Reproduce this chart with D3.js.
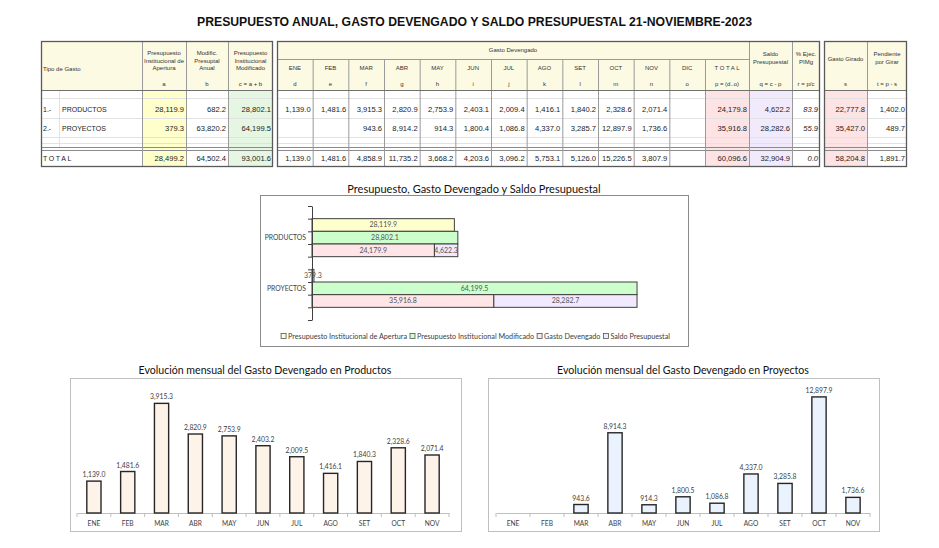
<!DOCTYPE html>
<html>
<head>
<meta charset="utf-8">
<script src="https://cdn.jsdelivr.net/npm/d3@7"></script>
<style>
  body { margin: 0; background: #fff; }
  svg { display: block; }
  text { font-family: "Liberation Sans", Arial, sans-serif; }
  .cal { font-family: Lato, "Open Sans", sans-serif; }
</style>
</head>
<body>
<svg id="chart" width="939" height="548"></svg>
<script>
// ---- data ----
const tituloPrincipal = "PRESUPUESTO ANUAL, GASTO DEVENGADO Y SALDO PRESUPUESTAL 21-NOVIEMBRE-2023";
const months = ["ENE", "FEB", "MAR", "ABR", "MAY", "JUN", "JUL", "AGO", "SET", "OCT", "NOV", "DIC"];
const monthLetters = ["d", "e", "f", "g", "h", "i", "j", "k", "l", "m", "n", "o"];
const tipos = ["PRODUCTOS", "PROYECTOS"];
const apertura = [28119.9, 379.3];
const modifAnual = [682.2, 63820.2];
const modificado = [28802.1, 64199.5];
const devProductos = [1139.0, 1481.6, 3915.3, 2820.9, 2753.9, 2403.1, 2009.4, 1416.1, 1840.2, 2328.6, 2071.4, null];
const devProyectos = [null, null, 943.6, 8914.2, 914.3, 1800.4, 1086.8, 4337.0, 3285.7, 12897.9, 1736.6, null];
const devTotalMes = [1139.0, 1481.6, 4858.9, 11735.2, 3668.2, 4203.6, 3096.2, 5753.1, 5126.0, 15226.5, 3807.9, null];
const devTotal = [24179.8, 35916.8];
const saldo = [4622.2, 28282.6];
const pctEjec = [83.9, 55.9];
const girado = [22777.8, 35427.0];
const pendiente = [1402.0, 489.7];
// total row: a, b, c, p, q, r, s, t
const totalFila = [28499.2, 64502.4, 93001.6, 60096.6, 32904.9, 0.0, 58204.8, 1891.7];

// middle chart
const chartApertura = [28119.9, 379.3];
const chartModificado = [28802.1, 64199.5];
const chartDevengado = [24179.9, 35916.8];
const chartSaldo = [4622.3, 28282.7];
const legendLabels = ["Presupuesto Institucional de Apertura", "Presupuesto Institucional Modificado", "Gasto Devengado", "Saldo Presupuestal"];

// bottom charts
const mesesGraf = ["ENE", "FEB", "MAR", "ABR", "MAY", "JUN", "JUL", "AGO", "SET", "OCT", "NOV"];
const grafProductos = [1139.0, 1481.6, 3915.3, 2820.9, 2753.9, 2403.2, 2009.5, 1416.1, 1840.3, 2328.6, 2071.4];
const grafProyectos = [null, null, 943.6, 8914.3, 914.3, 1800.5, 1086.8, 4337.0, 3285.8, 12897.9, 1736.6];

const fmt = d3.format(",.1f");
const svg = d3.select("#chart");

// ---- main title ----
svg.append("text")
    .attr("x", 474.5).attr("y", 26)
    .attr("text-anchor", "middle")
    .attr("font-weight", "bold")
    .attr("font-size", 13.5)
    .attr("fill", "#111")
    .attr("textLength", 555).attr("lengthAdjust", "spacingAndGlyphs")
    .text(tituloPrincipal);

// ---- table ----
const tbl = svg.append("g");
const beige = "#fcfae3", lineC = "#707070", faint = "#e2e2e2";
const yTop = 41, yHd1 = 59, yHd = 90, yBot = 167;
const xm = d3.scaleBand().domain(months).range([277, 705]);
const blocks = [[41, 273], [277, 820], [824, 907]];

blocks.forEach(b => tbl.append("rect")
    .attr("x", b[0]).attr("y", yTop).attr("width", b[1] - b[0]).attr("height", yHd - yTop)
    .attr("fill", beige));

const bodyFills = [[142, 186, "#ffffcc"], [228, 273, "#e5f6e3"], [705, 749, "#fde3e3"], [749, 792, "#f1eafc"], [824, 867, "#fde3e3"]];
bodyFills.forEach(f => tbl.append("rect")
    .attr("x", f[0]).attr("y", yHd).attr("width", f[1] - f[0]).attr("height", yBot - yHd)
    .attr("fill", f[2]));

function hline(x0, x1, y, c, w) {
  tbl.append("line").attr("x1", x0).attr("x2", x1).attr("y1", y).attr("y2", y)
      .attr("stroke", c).attr("stroke-width", w || 1);
}
function vline(x, y0, y1, c, w) {
  tbl.append("line").attr("x1", x).attr("x2", x).attr("y1", y0).attr("y2", y1)
      .attr("stroke", c).attr("stroke-width", w || 1);
}

// faint row lines
[98, 118, 137, 143].forEach(y => blocks.forEach(b => hline(b[0], b[1], y + 0.5, faint)));
vline(59.5, yHd, 147, faint);
// double line before total
[147.5, 150.5].forEach(y => blocks.forEach(b => hline(b[0], b[1], y, "#8a8a8a")));

// vertical column lines
[142, 186, 228, 749, 792, 867].forEach(x => vline(x + 0.5, yTop, yBot, "#9a9a9a"));
months.slice(1).forEach(m => vline(xm(m) + 0.5, yHd1, yBot, "#9a9a9a"));
vline(705.5, yHd1, yBot, "#9a9a9a");
hline(277, 749, yHd1 + 0.5, "#9a9a9a");
blocks.forEach(b => hline(b[0], b[1], yHd + 0.5, lineC));

blocks.forEach(b => tbl.append("rect")
    .attr("x", b[0] + 0.5).attr("y", yTop + 0.5).attr("width", b[1] - b[0] - 1).attr("height", yBot - yTop - 1)
    .attr("fill", "none").attr("stroke", "#5a5a5a").attr("stroke-width", 1.3));

// header texts
function hdr(xc, lines, y0, lh, anchor) {
  const t = tbl.append("text")
      .attr("x", xc).attr("y", y0)
      .attr("text-anchor", anchor || "middle")
      .attr("font-size", 6).attr("fill", "#333");
  lines.forEach((l, i) => t.append("tspan").attr("x", xc).attr("dy", i === 0 ? 0 : lh).text(l));
}
hdr(43, ["Tipo de Gasto"], 71, 0, "start");
hdr(164, ["Presupuesto", "Institucional de", "Apertura"], 55, 7.6);
hdr(207, ["Modific.", "Presuptal", "Anual"], 55, 7.6);
hdr(250.5, ["Presupuesto", "Institucional", "Modificado"], 55, 7.6);
hdr(164, ["a"], 86, 0);
hdr(207, ["b"], 86, 0);
hdr(250.5, ["c = a + b"], 86, 0);
hdr(513, ["Gasto Devengado"], 52, 0);
months.forEach((m, i) => {
  hdr(xm(m) + xm.bandwidth() / 2, [m], 70, 0);
  hdr(xm(m) + xm.bandwidth() / 2, [monthLetters[i]], 86, 0);
});
hdr(727, ["T O T A L"], 70, 0);
hdr(727, ["p = (d..o)"], 86, 0);
hdr(770.5, ["Saldo", "Presupuestal"], 56, 8);
hdr(770.5, ["q = c - p"], 86, 0);
hdr(806, ["% Ejec.", "PIMg"], 56, 8);
hdr(806, ["r = p/c"], 86, 0);
hdr(845.5, ["Gasto Girado"], 61, 0);
hdr(845.5, ["s"], 86, 0);
hdr(887, ["Pendiente", "por Girar"], 56, 8);
hdr(887, ["t = p - s"], 86, 0);

// body values
const monthRight = months.map(m => xm(m) + xm.bandwidth() - 2);
function cell(xr, y, v, italic) {
  if (v === null || v === undefined) return;
  tbl.append("text")
      .attr("x", xr).attr("y", y)
      .attr("text-anchor", "end")
      .attr("font-size", 7.6).attr("fill", "#1c1c1c")
      .attr("font-style", italic ? "italic" : null)
      .text(fmt(v));
}
const rowY = [111.5, 130.5];
const devRows = [devProductos, devProyectos];
tipos.forEach((t, i) => {
  const y = rowY[i];
  tbl.append("text").attr("x", 43).attr("y", y).attr("font-size", 7).attr("fill", "#1c1c1c").text((i + 1) + ".-");
  tbl.append("text").attr("x", 62).attr("y", y).attr("font-size", 7).attr("fill", "#1c1c1c").text(t);
  cell(184, y, apertura[i]);
  cell(226, y, modifAnual[i]);
  cell(271, y, modificado[i]);
  devRows[i].forEach((v, j) => cell(monthRight[j], y, v));
  cell(747, y, devTotal[i]);
  cell(790, y, saldo[i]);
  cell(818, y, pctEjec[i], true);
  cell(865, y, girado[i]);
  cell(905, y, pendiente[i]);
});
tbl.append("text").attr("x", 43).attr("y", 161).attr("font-size", 7).attr("fill", "#1c1c1c")
    .attr("letter-spacing", 1.6).text("TOTAL");
[184, 226, 271].forEach((xr, k) => cell(xr, 161, totalFila[k]));
devTotalMes.forEach((v, j) => cell(monthRight[j], 161, v));
cell(747, 161, totalFila[3]);
cell(790, 161, totalFila[4]);
cell(818, 161, totalFila[5], true);
cell(865, 161, totalFila[6]);
cell(905, 161, totalFila[7]);

// ---- middle horizontal chart ----
const mc = svg.append("g");
mc.append("rect").attr("x", 260.5).attr("y", 195.5).attr("width", 428).attr("height", 151)
    .attr("fill", "#fff").attr("stroke", "#8a8a8a");
mc.append("text").attr("class", "cal")
    .attr("x", 474).attr("y", 193).attr("text-anchor", "middle")
    .attr("font-size", 11).attr("fill", "#111")
    .text("Presupuesto, Gasto Devengado y Saldo Presupuestal");

const xB = d3.scaleLinear().domain([0, 70000]).range([312, 666.4]);
const slot = d3.scaleLinear().domain([0, 9]).range([206, 320]);
const serieColors = ["#ffffcc", "#ccffcc", "#ffe5e5", "#f0e9ff"];

const hbars = [];
tipos.forEach((t, i) => {
  const b = 4 * i;
  hbars.push({ s: b + 1, x0: 0, v: chartApertura[i], fill: serieColors[0] });
  hbars.push({ s: b + 2, x0: 0, v: chartModificado[i], fill: serieColors[1] });
  hbars.push({ s: b + 3, x0: 0, v: chartDevengado[i], fill: serieColors[2] });
  hbars.push({ s: b + 3, x0: chartDevengado[i], v: chartSaldo[i], fill: serieColors[3] });
});

mc.selectAll(".hbar")
    .data(hbars)
  .enter().append("rect")
    .attr("class", "hbar")
    .attr("x", d => xB(d.x0))
    .attr("y", d => slot(d.s))
    .attr("width", d => xB(d.x0 + d.v) - xB(d.x0))
    .attr("height", d => slot(d.s + 1) - slot(d.s))
    .attr("fill", d => d.fill)
    .attr("stroke", "#3f3f3f").attr("stroke-width", 1);

mc.selectAll(".hlab")
    .data(hbars)
  .enter().append("text")
    .attr("class", "hlab cal")
    .attr("x", d => (xB(d.x0) + xB(d.x0 + d.v)) / 2)
    .attr("y", d => (slot(d.s) + slot(d.s + 1)) / 2 + 2.4)
    .attr("text-anchor", "middle")
    .attr("font-size", 7).attr("fill", "#555")
    .text(d => fmt(d.v));

const yAx = mc.append("g")
    .attr("transform", "translate(312,0)")
    .call(d3.axisLeft(slot).tickValues(d3.range(10)).tickFormat("").tickSize(4).tickSizeOuter(0));
yAx.selectAll("line, path").attr("stroke", "#404040");

tipos.forEach((t, i) => {
  mc.append("text").attr("class", "cal")
      .attr("x", 306).attr("y", slot(2.5 + 4 * i) + 2.3)
      .attr("text-anchor", "end")
      .attr("font-size", 6.8).attr("fill", "#404040")
      .text(t);
});

// legend
const leg = mc.append("g");
let lx = 0;
legendLabels.forEach((l, i) => {
  const it = leg.append("g").attr("transform", "translate(" + lx + ",0)");
  it.append("rect").attr("x", 0.5).attr("y", -5.5).attr("width", 5).attr("height", 5)
      .attr("fill", serieColors[i]).attr("stroke", "#555").attr("stroke-width", 0.8);
  const tx = it.append("text").attr("class", "cal")
      .attr("x", 7.5).attr("y", 0)
      .attr("font-size", 7.2).attr("fill", "#404040")
      .text(l);
  lx += 7.5 + tx.node().getComputedTextLength() + 2.5;
});
leg.attr("transform", "translate(" + (476.5 - lx / 2) + ",339)");

// ---- monthly bar charts ----
function monthly(o) {
  const g = svg.append("g");
  g.append("rect").attr("x", o.fx0 + 0.5).attr("y", 378.5).attr("width", o.fx1 - o.fx0).attr("height", 153)
      .attr("fill", "#fff").attr("stroke", "#bfbfbf");
  g.append("text").attr("class", "cal")
      .attr("x", o.tx).attr("y", 373.5).attr("text-anchor", "middle")
      .attr("font-size", 10.6).attr("fill", "#111")
      .text(o.title);

  const x = d3.scaleBand().domain(mesesGraf).range([o.ax0, o.ax1]).paddingInner(0.58).paddingOuter(0.29);
  const y = d3.scaleLinear().domain([0, o.max]).range([513, 387]);
  const data = o.values.map((v, i) => ({ m: mesesGraf[i], v: v })).filter(d => d.v !== null);

  const xa = g.append("g")
      .attr("transform", "translate(0,513)")
      .call(d3.axisBottom(x).tickSize(0).tickPadding(8).tickSizeOuter(0));
  xa.select(".domain").attr("stroke", "#bfbfbf");
  xa.selectAll("text").attr("class", "cal").attr("font-size", 6.6).attr("fill", "#404040");
  g.selectAll(".bt")
      .data(d3.range(mesesGraf.length + 1))
    .enter().append("line")
      .attr("x1", i => o.ax0 + i * x.step()).attr("x2", i => o.ax0 + i * x.step())
      .attr("y1", 513).attr("y2", 517)
      .attr("stroke", "#bfbfbf");

  g.selectAll(".bar")
      .data(data)
    .enter().append("rect")
      .attr("x", d => x(d.m))
      .attr("y", d => y(d.v))
      .attr("width", x.bandwidth())
      .attr("height", d => 513 - y(d.v))
      .attr("fill", o.fill)
      .attr("stroke", "#262626").attr("stroke-width", 1.4);

  g.selectAll(".blab")
      .data(data)
    .enter().append("text")
      .attr("class", "cal")
      .attr("x", d => x(d.m) + x.bandwidth() / 2)
      .attr("y", d => y(d.v) - 4)
      .attr("text-anchor", "middle")
      .attr("font-size", 6.8).attr("fill", "#404040")
      .text(d => fmt(d.v));
}

monthly({ fx0: 70, fx1: 461, tx: 265, ax0: 77, ax1: 449, max: 4500, fill: "#fdf3e8",
  values: grafProductos, title: "Evolución mensual del Gasto Devengado en Productos" });
monthly({ fx0: 488, fx1: 879, tx: 683, ax0: 496, ax1: 870, max: 14000, fill: "#eaf3fd",
  values: grafProyectos, title: "Evolución mensual del Gasto Devengado en Proyectos" });
</script>
</body>
</html>
